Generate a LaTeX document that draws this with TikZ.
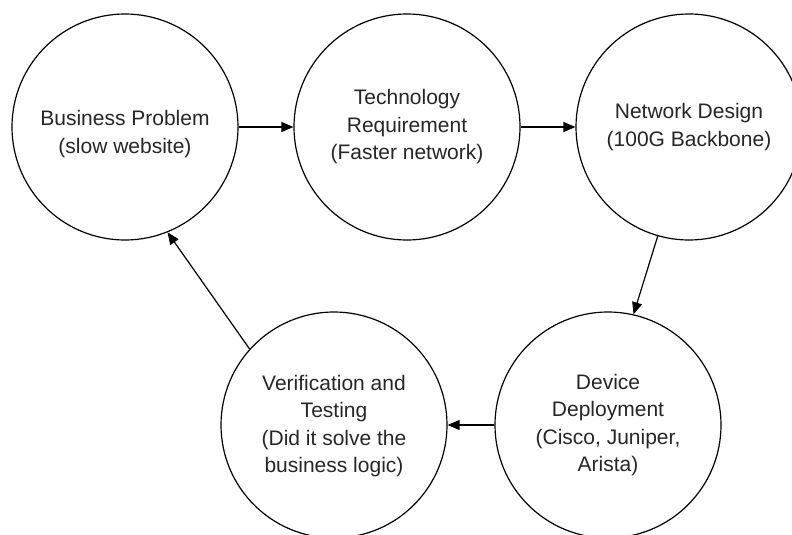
\documentclass[tikz,border=0pt]{standalone}
\usepackage{fontspec}
\setmainfont{Liberation Sans}
\usetikzlibrary{arrows.meta}
\begin{document}
\begin{tikzpicture}[x=1pt,y=-1pt,
  stage/.style={draw=black,line width=1.2pt,circle,minimum size=226pt,inner sep=0pt},
  caption/.style={align=center,text=black!85,font=\fontsize{21}{27.5}\selectfont,inner sep=0pt},
  flow/.style={draw=black,line width=1.2pt,-{Triangle[length=12pt,width=10pt]}}]
\useasboundingbox (0,0) rectangle (792,535);
% the five stages of the cycle
\node[stage] (bp) at (125,127) {};
\node[stage] (tr) at (407,127) {};
\node[stage] (nd) at (689,127) {};
\node[stage] (dd) at (608,425) {};
\node[stage] (vt) at (334,425) {};
% stage captions
\node[caption] (bpt) at (125,134) {Business Problem\\(slow website)};
\node[caption] (trt) at (407,127) {Technology\\Requirement\\(Faster network)};
\node[caption] (ndt) at (689,127) {Network Design\\(100G Backbone)};
\node[caption] (ddt) at (608,425) {Device\\Deployment\\(Cisco, Juniper,\\Arista)};
\node[caption] (vtt) at (334,426) {Verification and\\Testing\\(Did it solve the\\business logic)};
% connectors
\draw[flow] (bp.east) -- (tr.west);
\draw[flow] (tr.east) -- (nd.west);
\draw[flow] (nd.-106) -- (dd.77);
\draw[flow] (dd.west) -- (vt.east);
\draw[flow] (vt.138) -- (bp.-68);
\end{tikzpicture}
\end{document}
